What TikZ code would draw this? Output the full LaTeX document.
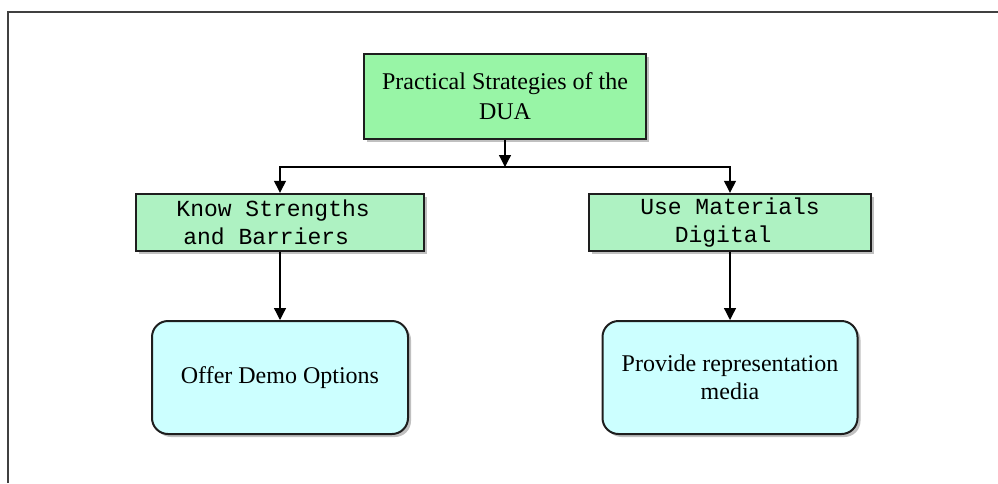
\documentclass[tikz,border=0pt]{standalone}
\usepackage{fontspec}
\setmainfont{Liberation Serif}
\newfontfamily\monofam{Liberation Mono}
\usetikzlibrary{arrows.meta,shadows}
\definecolor{topgreen}{HTML}{98F5A6}
\definecolor{midgreen}{HTML}{AEF2C2}
\definecolor{lightcyan}{HTML}{CCFFFF}
\definecolor{edgedark}{HTML}{1E1E1E}
\tikzset{
  boxshadow/.style={drop shadow={shadow xshift=3pt,shadow yshift=-3pt,opacity=0.45,fill=black!55}},
  topbox/.style={draw=edgedark,line width=2.4pt,fill=topgreen,inner sep=0pt,align=center,
    font=\fontsize{24}{30}\selectfont,boxshadow},
  midbox/.style={draw=edgedark,line width=2.4pt,fill=midgreen,inner sep=0pt,align=center,
    minimum height=57pt,font=\monofam\fontsize{23}{28}\selectfont,boxshadow},
  leafbox/.style={draw=edgedark,line width=2pt,fill=lightcyan,inner sep=0pt,align=center,
    rounded corners=16pt,minimum height=113pt,font=\fontsize{24}{28}\selectfont,boxshadow},
  conn/.style={draw=black,line width=1.3pt,-{Triangle[length=12pt,width=12pt]}},
  framel/.style={draw=black!75,line width=1.6pt}
}
\begin{document}
\begin{tikzpicture}[x=1pt,y=-1pt]
\useasboundingbox (0,0) rectangle (998,483);
\coordinate (fa) at (8,483);
\coordinate (fb) at (8,12);
\coordinate (fc) at (998,12);
\draw[framel] (fa) -- (fb) -- (fc);

\node[topbox,minimum width=282pt,minimum height=85pt] (top) at (505,96.5) {Practical Strategies of the\\DUA};
\node[midbox,minimum width=288pt] (know) at (280,222.5) {Know Strengths\phantom{x}\\and Barriers\phantom{xx}};
\node[midbox,minimum width=282pt] (use) at (730,222.5) {Use Materials\\Digital\phantom{x}};
\node[leafbox,minimum width=256pt] (offer) at (280,377.5) {Offer Demo Options};
\node[leafbox,minimum width=255pt] (prov) at (730,377.5) {Provide representation\\media};

\coordinate (j) at (505,167);
\draw[conn] (top.south) -- (j);
\draw[conn] (j) -| (know.north);
\draw[conn] (j) -| (use.north);
\draw[conn] (know.south) -- (know.south |- offer.north);
\draw[conn] (use.south) -- (use.south |- prov.north);
\end{tikzpicture}
\end{document}
